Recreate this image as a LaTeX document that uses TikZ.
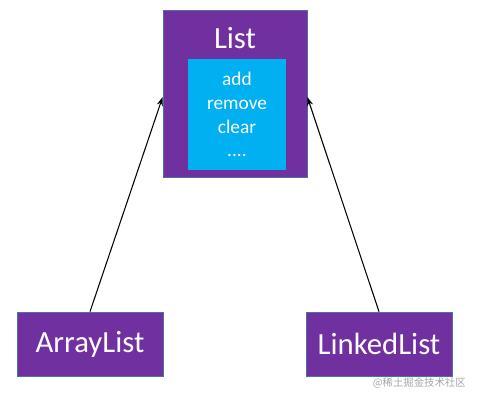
\documentclass[tikz,border=0pt]{standalone}
\usepackage{fontspec}
\setmainfont{Carlito}
\newfontfamily\cjkfont{Noto Sans CJK SC}
\usetikzlibrary{arrows.meta, positioning}
\definecolor{listpurple}{HTML}{7030A0}
\definecolor{listcyan}{HTML}{00B0F0}
\definecolor{listedge}{HTML}{4F6FA8}

\begin{document}
\begin{tikzpicture}[
    box/.style={draw=listedge, fill=#1, line width=0.4pt, text=white, minimum width=2.92cm, minimum height=1.28cm, inner sep=0pt, align=center},
    arr/.style={-{Stealth[length=5pt, width=3.5pt]}, line width=0.6pt, color=black},
]
\useasboundingbox (0,0) rectangle (9.56,-8);
\node[box=listpurple, minimum width=2.88cm, minimum height=3.34cm] (list) at (4.70,-1.87) {};
\node[text=white, font=\fontsize{17.5}{20}\selectfont] (title) at (4.70,-0.76) {List};
\node[fill=listcyan, text=white, minimum width=1.96cm, minimum height=2.22cm, inner sep=0pt, align=center, font=\fontsize{11}{13.6}\selectfont] (ops) at (4.74,-2.29) {add\\remove\\clear\\....};
\node[box=listpurple, font=\fontsize{17.5}{20}\selectfont] (al) at (1.80,-6.88) {ArrayList};
\node[box=listpurple, font=\fontsize{17.5}{20}\selectfont] (ll) at (7.58,-6.88) {LinkedList};
\draw[arr] (al.north) -- ([yshift=-0.07cm]list.west);
\draw[arr] (ll.north) -- ([yshift=-0.07cm]list.east);
% watermark
\node[text=black!35, inner sep=0pt, font=\cjkfont\fontsize{5.9}{7}\selectfont, anchor=east] (mark) at (9.32,-7.66) {@稀土掘金技术社区};
\end{tikzpicture}
\end{document}
